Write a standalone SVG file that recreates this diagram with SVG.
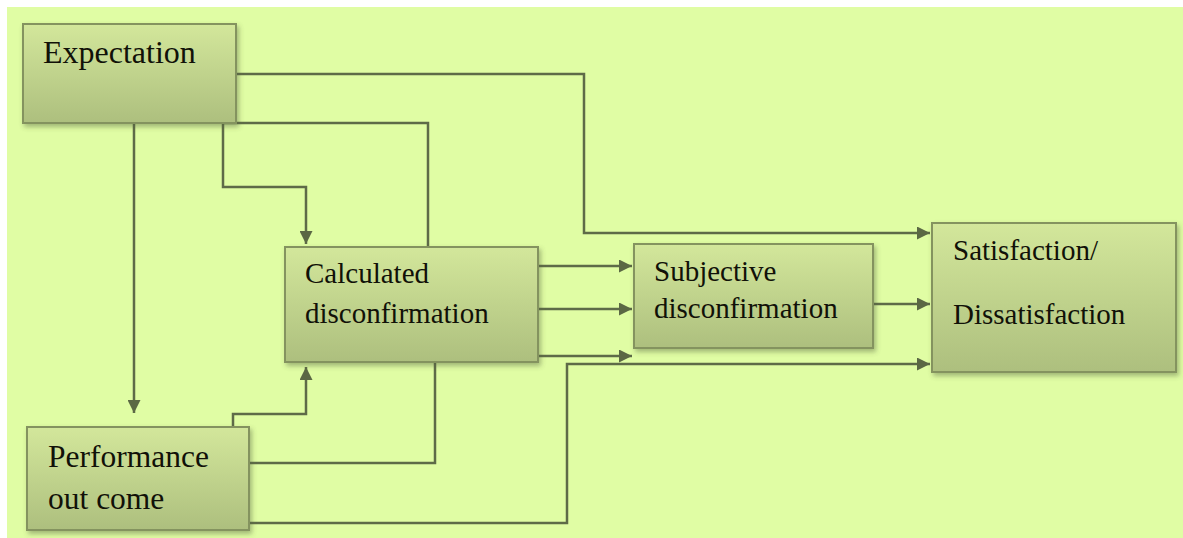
<svg xmlns="http://www.w3.org/2000/svg" width="1183" height="538" viewBox="0 0 1183 538">
<defs>
<linearGradient id="boxg" x1="0" y1="0" x2="0" y2="1">
<stop offset="0" stop-color="#d3e79b"/>
<stop offset="1" stop-color="#adbf7e"/>
</linearGradient>
<filter id="sh" x="-10%" y="-10%" width="125%" height="130%">
<feDropShadow dx="2" dy="3" stdDeviation="2.5" flood-color="#55603a" flood-opacity="0.45"/>
</filter>
<marker id="ah" viewBox="0 0 13 13" refX="13" refY="6.5" markerWidth="13" markerHeight="13" orient="auto" markerUnits="userSpaceOnUse">
<path d="M0,0 L13,6.5 L0,13 Z" fill="#5b6844"/>
</marker>
<style>
.box{fill:url(#boxg);stroke:#84935f;stroke-width:2;filter:url(#sh)}
.t{font-family:"Liberation Serif","Times New Roman",serif;fill:#111108}
.c{fill:none;stroke:#5e6b48;stroke-width:2.5}
.a{marker-end:url(#ah)}
</style>
</defs>
<rect x="0" y="0" width="1183" height="538" fill="#ffffff"/>
<rect x="7" y="7" width="1176" height="531" fill="#e0fda4"/>
<g id="connectors">
<path class="c a" d="M236,74 H584 V233 H930"/>
<path class="c" d="M223,123 H428 V247"/>
<path class="c a" d="M223,123 V187 H306 V244"/>
<path class="c a" d="M134,124 V413"/>
<path class="c a" d="M233,427 V414 H306 V367"/>
<path class="c" d="M249,463 H435 V363"/>
<path class="c a" d="M249,523 H567 V364 H930"/>
<path class="c a" d="M538,266 H632"/>
<path class="c a" d="M538,309 H632"/>
<path class="c a" d="M538,356 H632"/>
<path class="c a" d="M873,304 H930"/>
</g>
<g id="expectation">
<rect class="box" x="23" y="24" width="213" height="99"/>
<text class="t" x="43" y="63" font-size="32">Expectation</text>
</g>
<g id="calculated">
<rect class="box" x="285" y="247" width="253" height="115"/>
<text class="t" x="305" y="283" font-size="29">Calculated</text>
<text class="t" x="305" y="323" font-size="29">disconfirmation</text>
</g>
<g id="subjective">
<rect class="box" x="634" y="244" width="239" height="104"/>
<text class="t" x="654" y="281" font-size="29">Subjective</text>
<text class="t" x="654" y="318" font-size="29">disconfirmation</text>
</g>
<g id="satisfaction">
<rect class="box" x="932" y="223" width="244" height="149"/>
<text class="t" x="953" y="260" font-size="29">Satisfaction/</text>
<text class="t" x="953" y="324" font-size="29">Dissatisfaction</text>
</g>
<g id="performance">
<rect class="box" x="27" y="427" width="222" height="103"/>
<text class="t" x="48" y="467" font-size="31.5">Performance</text>
<text class="t" x="48" y="509" font-size="31.5">out come</text>
</g>
</svg>
